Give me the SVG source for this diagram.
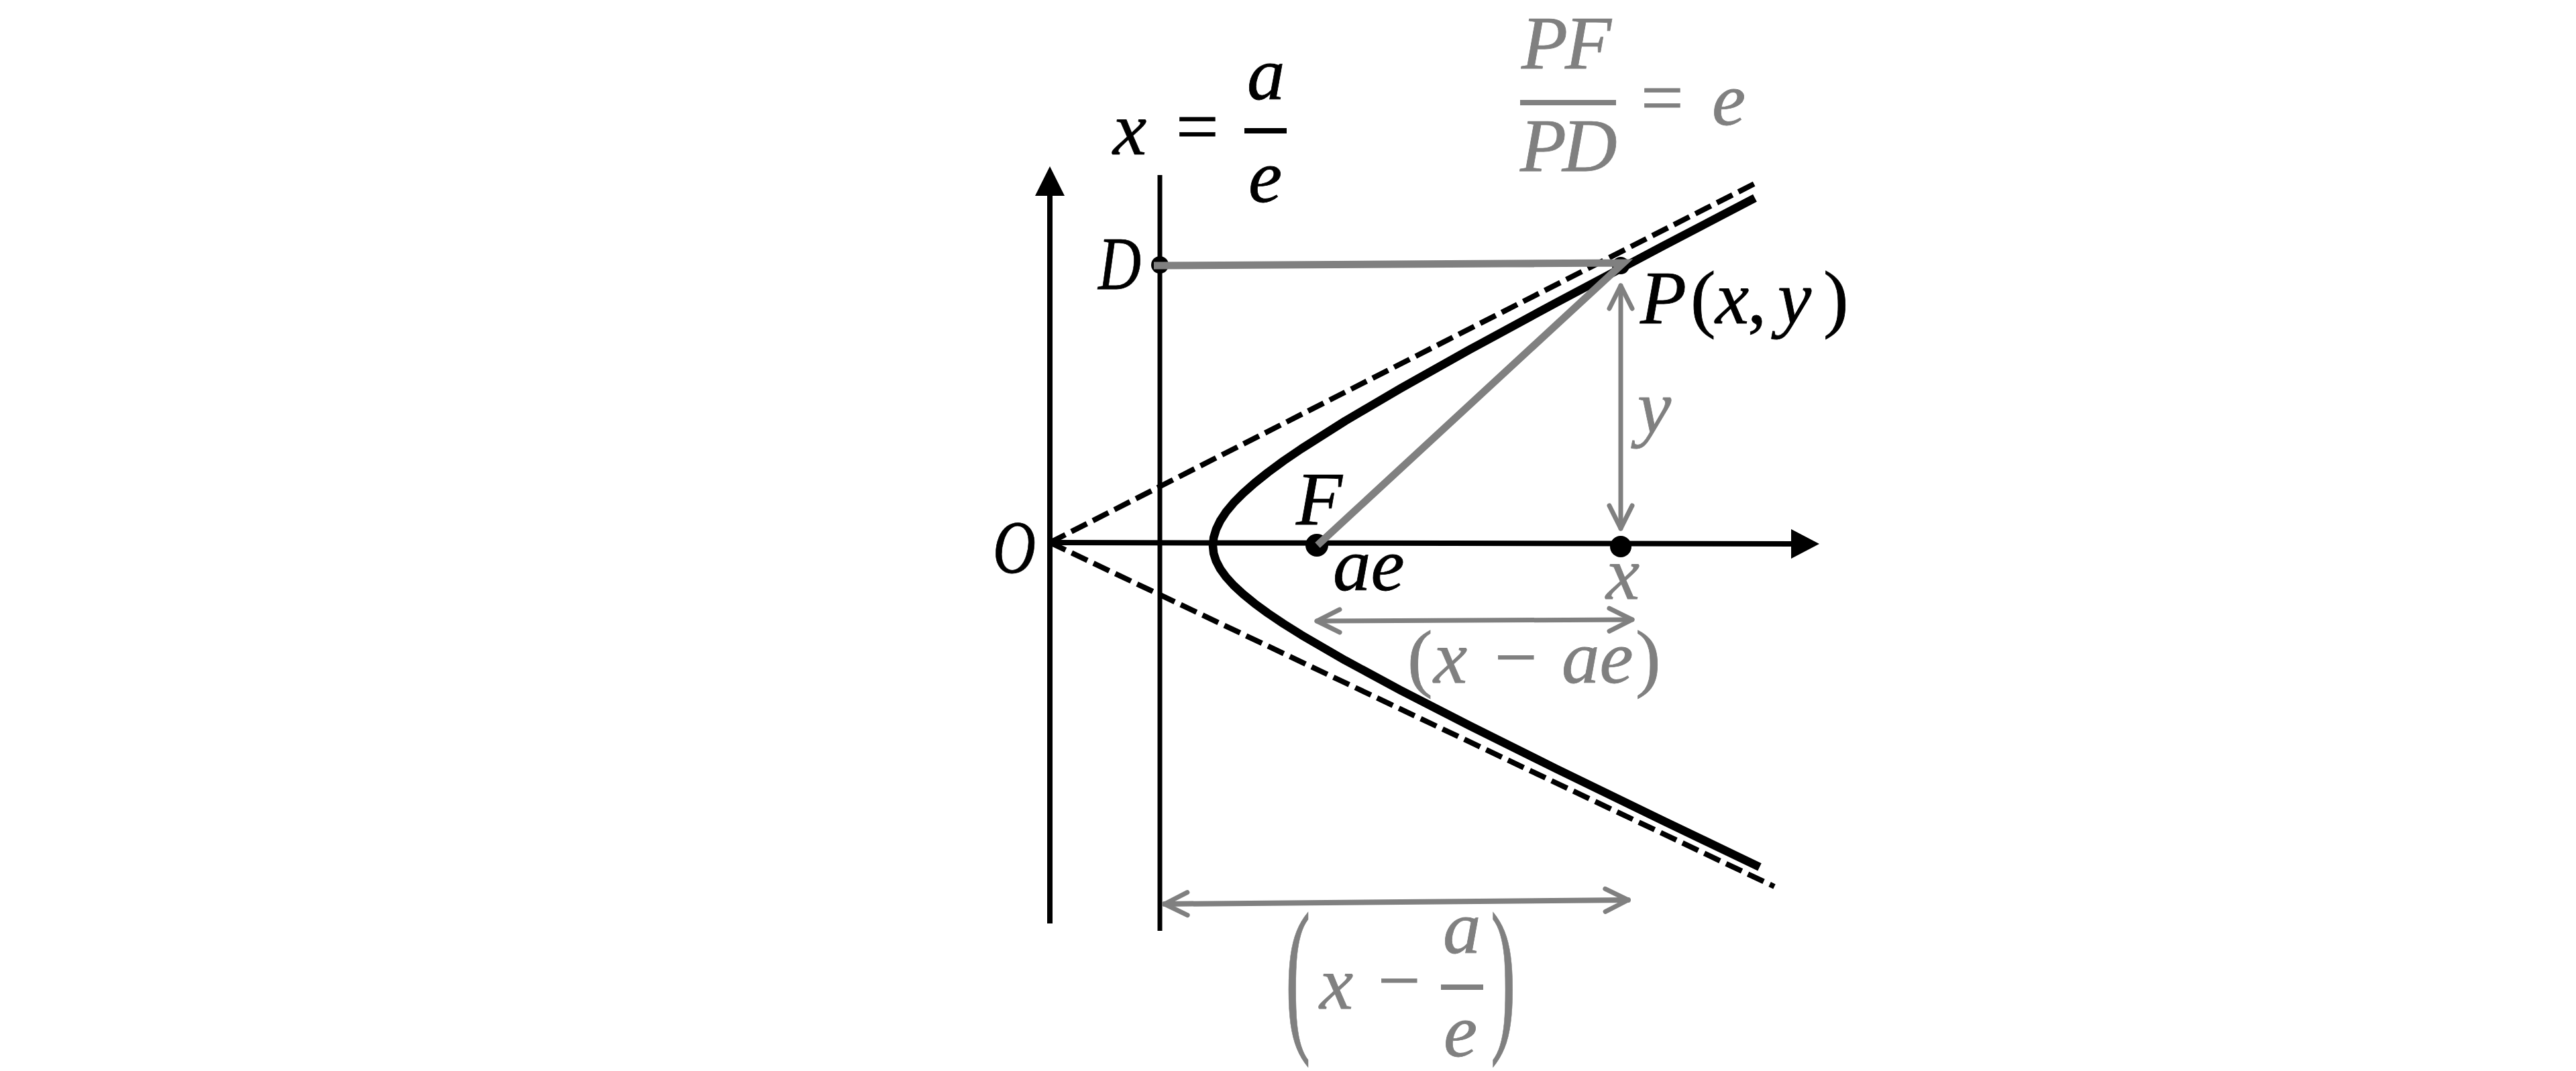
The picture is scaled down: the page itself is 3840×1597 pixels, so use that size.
<svg xmlns="http://www.w3.org/2000/svg" width="3840" height="1597" viewBox="0 0 3840 1597">
<style>
.ax{stroke:#000;stroke-width:8;fill:none}
.dir{stroke:#000;stroke-width:7;fill:none}
.asy{stroke:#000;stroke-width:8;fill:none;stroke-dasharray:26 10}
.hyp{stroke:#000;stroke-width:12.5;fill:none;stroke-linejoin:round}
.gl{stroke:#808080;stroke-width:11;fill:none;stroke-linejoin:miter;stroke-miterlimit:10}
.ga{stroke:#808080;stroke-width:7;fill:none;stroke-linecap:round}
.ga2{stroke:#808080;stroke-width:8;fill:none;stroke-linecap:round}
text{font-family:"Liberation Serif","DejaVu Serif",serif;font-size:113px;font-style:italic;stroke-width:0.8}
.k{fill:#000;stroke:#000}
.g{fill:#808080;stroke:#808080}
.up{font-style:normal}
</style>
<defs>
<marker id="chev" markerUnits="userSpaceOnUse" viewBox="-40 -24 48 48" refX="0" refY="0" markerWidth="48" markerHeight="48" orient="auto-start-reverse" overflow="visible">
<path d="M-34,-17 L0,0 L-34,17" fill="none" stroke="#808080" stroke-width="7" stroke-linecap="round" stroke-linejoin="round"/>
</marker>
</defs>
<rect width="3840" height="1597" fill="#fff"/>
<g id="connectors">
<g id="axes">
<line class="ax" x1="1565" y1="1377" x2="1565" y2="288"/>
<polygon points="1565,248 1543,292 1587,292" fill="#000"/>
<line class="ax" x1="1565" y1="809" x2="2674" y2="811"/>
<polygon points="2712,811 2670,789 2670,833" fill="#000"/>
</g>
<line id="directrix" class="dir" x1="1729" y1="261" x2="1729" y2="1388"/>
<line id="asym-up" class="asy" x1="1565" y1="809" x2="2623" y2="270"/>
<line id="asym-down" class="asy" x1="1565" y1="809" x2="2645" y2="1322"/>
<path id="hyperbola" class="hyp" d="M2616,295.2 L2479.2,366.8 L2320.1,451.2 L2191.3,521.1 L2087.7,579.2 L2005,627.9 L1940,669.1 L1913.2,687.4 L1890,704.5 L1870,720.5 L1853.1,735.5 L1839,749.7 L1827.7,763.3 L1819,776.5 L1812.9,789.2 L1809.2,801.6 L1808,814 L1809.2,825.3 L1812.9,836.7 L1819,848.4 L1827.7,860.4 L1839,872.9 L1853.1,885.9 L1870,899.7 L1890,914.4 L1913.2,930 L1940,946.8 L2005,984.6 L2087.7,1029.2 L2191.3,1082.4 L2320.1,1146.5 L2479.2,1223.8 L2623,1292.9"/>
<line id="arrow-y" class="ga" x1="2416" y1="426" x2="2416" y2="788" marker-start="url(#chev)" marker-end="url(#chev)"/>
<line id="arrow-x-ae" class="ga" x1="1963" y1="926" x2="2433" y2="924" marker-start="url(#chev)" marker-end="url(#chev)"/>
<line id="arrow-x-ae2" class="ga2" x1="1736" y1="1348" x2="2427" y2="1342" marker-start="url(#chev)" marker-end="url(#chev)"/>
</g>
<g id="node-D"><circle cx="1729" cy="395" r="13" fill="#000"/></g>
<g id="node-P"><circle cx="2416" cy="396" r="13" fill="#000"/></g>
<g id="node-F"><circle cx="1963" cy="813" r="17" fill="#000"/></g>
<g id="node-X"><circle cx="2416" cy="815" r="16" fill="#000"/></g>
<g id="segments">
<polyline class="gl" points="1720,396 2420,392 1964,813"/>
</g>
<g id="labels">
<text class="k" x="1659" y="230">x</text>
<text class="k up" x="1753" y="226">=</text>
<rect x="1855" y="191" width="63" height="8" fill="#000"/>
<text class="k" x="1859" y="148">a</text>
<text class="k" x="1861" y="301">e</text>
<text class="g" x="2268" y="102">P</text>
<text class="g" x="2333" y="102">F</text>
<rect x="2266" y="149" width="143" height="8" fill="#808080"/>
<text class="g" x="2266" y="255">P</text>
<text class="g" x="2329" y="255">D</text>
<text class="g up" x="2446" y="183">=</text>
<text class="g" x="2552" y="186">e</text>
<text class="k" x="1637" y="431" textLength="64" lengthAdjust="spacingAndGlyphs">D</text>
<text class="k" y="482"><tspan x="2445">P</tspan><tspan class="up" x="2520">(</tspan><tspan x="2557">x</tspan><tspan class="up" x="2605">,</tspan><tspan x="2650">y</tspan><tspan class="up" x="2718">)</tspan></text>
<text class="g" x="2441" y="645">y</text>
<text class="k" x="1932" y="782">F</text>
<text class="k" x="1480" y="854" textLength="64" lengthAdjust="spacingAndGlyphs">O</text>
<text class="k" x="1987" y="880">ae</text>
<text class="g" x="2394" y="893">x</text>
<text class="g" y="1018"><tspan class="up" x="2098">(</tspan><tspan x="2137">x</tspan><tspan class="up" x="2228">−</tspan><tspan x="2328">ae</tspan><tspan class="up" x="2438">)</tspan></text>
<text class="g up" transform="translate(1916,1537) scale(1,2.26)" x="0" y="0" style="stroke-width:0.5">(</text>
<text class="g up" transform="translate(2222,1537) scale(1,2.26)" x="0" y="0" style="stroke-width:0.5">)</text>
<text class="g" x="1967" y="1504">x</text>
<text class="g up" x="2054" y="1500">−</text>
<rect x="2148" y="1468" width="63" height="8" fill="#808080"/>
<text class="g" x="2151" y="1421">a</text>
<text class="g" x="2152" y="1575">e</text>
</g>
</svg>
